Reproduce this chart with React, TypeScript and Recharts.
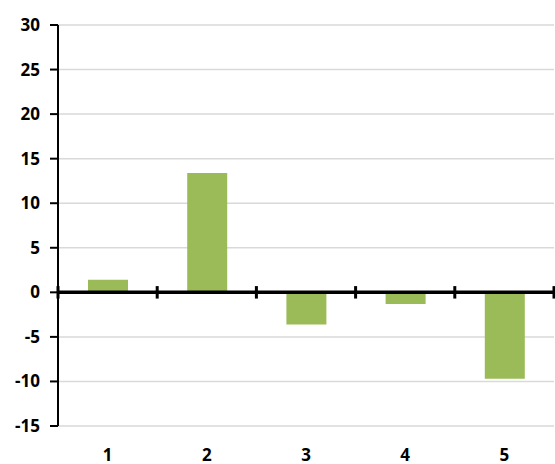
import {
  BarChart,
  Bar,
  XAxis,
  YAxis,
  CartesianGrid,
  ReferenceLine,
} from "recharts";

const categories = ["1", "2", "3", "4", "5"];
const values = [1.4, 13.4, -3.6, -1.3, -9.7];
const yTicks = [-15, -10, -5, 0, 5, 10, 15, 20, 25, 30];

const data = categories.map((name, i) => ({ name, value: values[i] }));

const font = {
  fontFamily: "'Open Sans', sans-serif",
  fontWeight: 700,
  fontSize: 17,
  fill: "#000",
};

// small marks on the zero line, at the start of each category and the end of the last one
const marks = [
  ...categories.map((c) => ({ x: c, position: "start" as const })),
  { x: categories[categories.length - 1], position: "end" as const },
];

export default function App() {
  return (
    <div style={{ position: "absolute", left: 0, top: 0, background: "#fff" }}>
      <BarChart
        width={555}
        height={464}
        data={data}
        margin={{ top: 25, right: 1, bottom: 0, left: 0 }}
      >
        <CartesianGrid
          horizontal
          vertical={false}
          stroke="#d9d9d9"
          strokeWidth={1.5}
        />
        <XAxis
          dataKey="name"
          height={38}
          axisLine={false}
          tickLine={false}
          tickMargin={17}
          tick={font}
          interval={0}
        />
        <YAxis
          width={58}
          domain={[-15, 30]}
          ticks={yTicks}
          interval={0}
          allowDataOverflow
          axisLine={{ stroke: "#000", strokeWidth: 2 }}
          tickLine={{ stroke: "#000", strokeWidth: 2 }}
          tickSize={8}
          tickMargin={10}
          tick={font}
        />
        <Bar
          dataKey="value"
          fill="#9bbb59"
          barSize={40}
          isAnimationActive={false}
        />
        <ReferenceLine y={0} stroke="#000" strokeWidth={3.5} />
        {marks.map((m, i) => (
          <ReferenceLine
            key={i}
            position={m.position}
            segment={[
              { x: m.x, y: -0.7 },
              { x: m.x, y: 0.7 },
            ]}
            stroke="#000"
            strokeWidth={3}
            ifOverflow="visible"
          />
        ))}
      </BarChart>
    </div>
  );
}
